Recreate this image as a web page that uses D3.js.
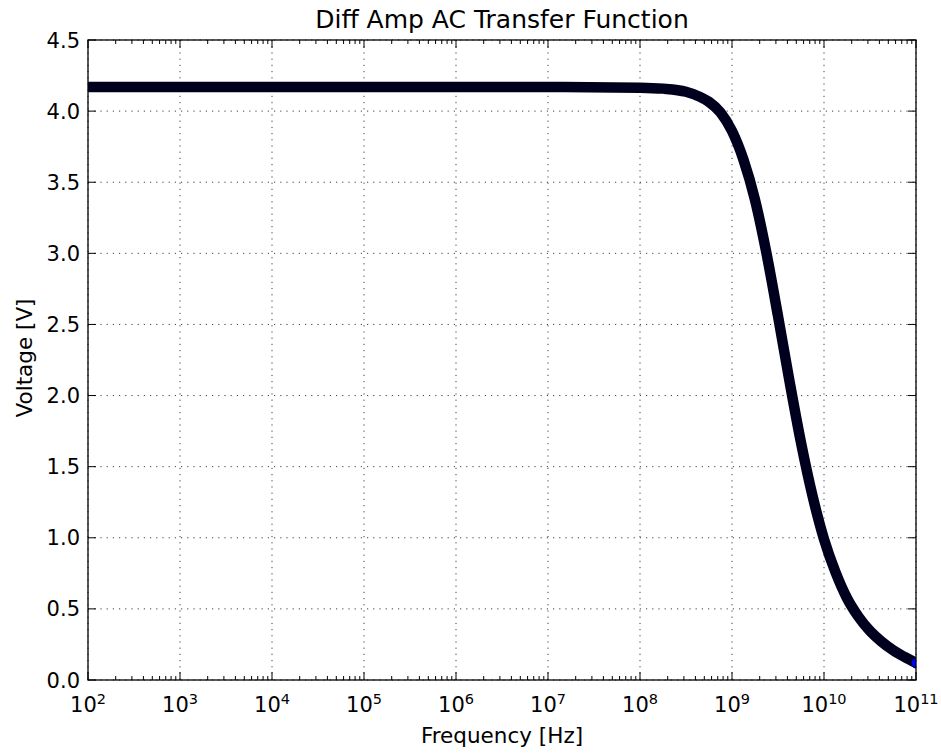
<!DOCTYPE html>
<html>
<head>
<meta charset="utf-8">
<script src="https://cdn.jsdelivr.net/npm/d3@7"></script>
<style>
    body { margin: 0; background: #fff; }
    text { font-family: "DejaVu Sans", sans-serif; fill: #000; }
</style>
</head>
<body>
<div id="chart"></div>
<script>
// values
const freqHz = [1e2, 1e3, 1e4, 1e5, 1e6, 1e7, 1e8, 1.78e8, 3.16e8, 4.49e8, 5.62e8, 7.5e8,
    1e9, 1.33e9, 1.78e9, 2.37e9, 3.16e9, 4.22e9, 5.62e9, 7.5e9,
    1e10, 1.33e10, 1.78e10, 2.37e10, 3.16e10, 4.22e10, 5.62e10, 7.5e10, 1e11];
const voltage = [4.17, 4.17, 4.17, 4.17, 4.17, 4.17, 4.165, 4.158, 4.136, 4.10, 4.065, 3.99,
    3.86, 3.66, 3.375, 3.0, 2.56, 2.10, 1.67, 1.295,
    0.99, 0.76, 0.575, 0.445, 0.345, 0.27, 0.21, 0.162, 0.12];
const yTicks = [0, 0.5, 1, 1.5, 2, 2.5, 3, 3.5, 4, 4.5];
const xDecades = [2, 3, 4, 5, 6, 7, 8, 9, 10, 11];

function init() {
    const w = 941, h = 755;
    const left = 88, top = 40, right = 916, bottom = 680;

    const svg = d3.select("#chart").append("svg")
        .attr("width", w)
        .attr("height", h);

    const x = d3.scaleLog().domain([1e2, 1e11]).range([left, right]);
    const y = d3.scaleLinear().domain([0, 4.5]).range([bottom, top]);

    svg.append("defs").append("clipPath")
        .attr("id", "plotClip")
        .append("rect")
        .attr("x", left).attr("y", top)
        .attr("width", right - left).attr("height", bottom - top);

    // grid
    const grid = svg.append("g")
        .attr("stroke", "#000")
        .attr("stroke-width", 1)
        .attr("stroke-dasharray", "1.2,5")
        .attr("opacity", 0.75);
    xDecades.forEach(function (e) {
        grid.append("line")
            .attr("x1", x(Math.pow(10, e))).attr("x2", x(Math.pow(10, e)))
            .attr("y1", top).attr("y2", bottom);
    });
    yTicks.forEach(function (v) {
        grid.append("line")
            .attr("x1", left).attr("x2", right)
            .attr("y1", y(v)).attr("y2", y(v));
    });

    // the dense markers look like one thick dark line
    const pts = freqHz.map(function (f, i) { return [x(f), y(voltage[i])]; });
    const line = d3.line().curve(d3.curveMonotoneX);
    const plot = svg.append("g").attr("clip-path", "url(#plotClip)");
    plot.append("path")
        .attr("d", line(pts))
        .attr("fill", "none")
        .attr("stroke", "#00001e")
        .attr("stroke-width", 10.5)
        .attr("stroke-linecap", "round");
    // last marker stays blue
    const last = pts[pts.length - 1];
    plot.append("circle")
        .attr("cx", last[0]).attr("cy", last[1])
        .attr("r", 5)
        .attr("fill", "#0000ff")
        .attr("stroke", "#000")
        .attr("stroke-width", 0.8);

    // ticks
    const ticks = svg.append("g").attr("stroke", "#000").attr("stroke-width", 1);
    yTicks.forEach(function (v) {
        ticks.append("line").attr("x1", left).attr("x2", left + 8).attr("y1", y(v)).attr("y2", y(v));
        ticks.append("line").attr("x1", right).attr("x2", right - 8).attr("y1", y(v)).attr("y2", y(v));
    });
    xDecades.forEach(function (e) {
        const xv = x(Math.pow(10, e));
        ticks.append("line").attr("x1", xv).attr("x2", xv).attr("y1", bottom).attr("y2", bottom - 8);
        ticks.append("line").attr("x1", xv).attr("x2", xv).attr("y1", top).attr("y2", top + 8);
        if (e < 11) {
            for (let m = 2; m <= 9; m++) {
                const xm = x(m * Math.pow(10, e));
                ticks.append("line").attr("x1", xm).attr("x2", xm).attr("y1", bottom).attr("y2", bottom - 4);
                ticks.append("line").attr("x1", xm).attr("x2", xm).attr("y1", top).attr("y2", top + 4);
            }
        }
    });

    // frame
    svg.append("rect")
        .attr("x", left).attr("y", top)
        .attr("width", right - left).attr("height", bottom - top)
        .attr("fill", "none")
        .attr("stroke", "#000")
        .attr("stroke-width", 1.3);

    // tick labels
    yTicks.forEach(function (v) {
        svg.append("text")
            .attr("x", left - 8)
            .attr("y", y(v))
            .attr("dy", "0.36em")
            .attr("text-anchor", "end")
            .style("font-size", "21px")
            .text(d3.format(".1f")(v));
    });
    xDecades.forEach(function (e) {
        const t = svg.append("text")
            .attr("x", x(Math.pow(10, e)))
            .attr("y", 712)
            .attr("text-anchor", "middle")
            .style("font-size", "21px");
        t.append("tspan").text("10");
        t.append("tspan")
            .attr("dy", -8)
            .style("font-size", "14.5px")
            .text(e);
    });

    svg.append("text")
        .attr("x", (left + right) / 2)
        .attr("y", 28)
        .attr("text-anchor", "middle")
        .style("font-size", "25px")
        .text("Diff Amp AC Transfer Function");

    svg.append("text")
        .attr("x", (left + right) / 2)
        .attr("y", 743)
        .attr("text-anchor", "middle")
        .style("font-size", "21.5px")
        .text("Frequency [Hz]");

    svg.append("text")
        .attr("transform", "translate(32,358) rotate(-90)")
        .attr("text-anchor", "middle")
        .style("font-size", "21.5px")
        .text("Voltage [V]");
}

window.addEventListener('load', init);
</script>
</body>
</html>
